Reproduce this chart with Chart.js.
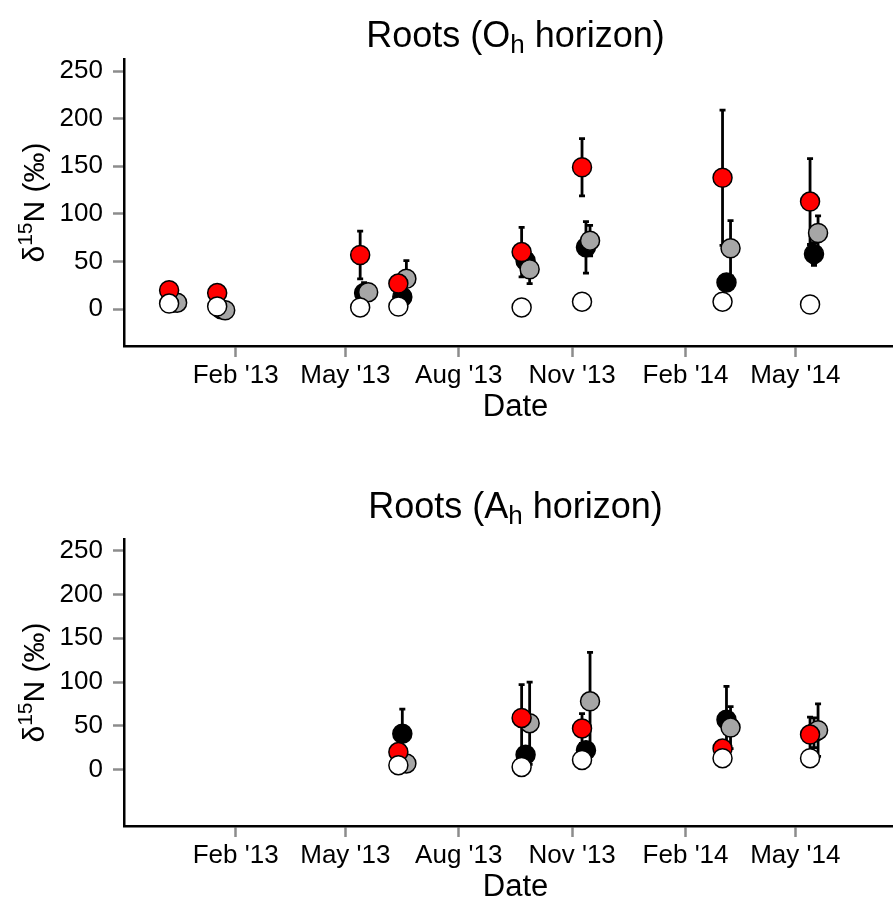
<!DOCTYPE html>
<html>
<head>
<meta charset="utf-8">
<script src="https://cdn.jsdelivr.net/npm/chart.js@4.4.1/dist/chart.umd.min.js"></script>
<style>
  body { margin: 0; background: #fff; overflow: hidden; }
  canvas { display: block; }
</style>
</head>
<body>
<canvas id="ohChart" width="893" height="450"></canvas>
<canvas id="ahChart" width="893" height="450"></canvas>
<script>
// sampling dates and axis ticks
var sampleDates = ['2012-12-09', '2013-01-17', '2013-05-13', '2013-06-13',
                   '2013-09-21', '2013-11-09', '2014-03-03', '2014-05-13'];
var tickDates = ['2013-02-01', '2013-05-01', '2013-08-01', '2013-11-01', '2014-02-01', '2014-05-01'];
var tickLabels = ["Feb '13", "May '13", "Aug '13", "Nov '13", "Feb '14", "May '14"];
var yTicks = [0, 50, 100, 150, 200, 250];

// Oh horizon: mean and error
var ohRed = [20, 17, 57, 27, 60, 149, 138, 113];
var ohRedErr = [3, 3, 25, 5, 26, 30, 71, 45];
var ohGrey = [7, -1, 18, 32, 42, 72, 64, 80];
var ohGreyErr = [2, 2, 5, 19, 15, 16, 29, 18];
var ohBlack = [7, 0, 17, 13, 51, 65, 28, 58];
var ohBlackErr = [2, 2, 11, 4, 10, 27, 5, 12];
var ohWhite = [6, 3, 2, 3, 2, 8, 8, 5];
var ohWhiteErr = [1, 1, 1, 1, 1, 1, 1, 1];

// Ah horizon
var ahRed = [null, null, null, 20, 59, 47, 24, 40];
var ahRedErr = [null, null, null, 3, 38, 17, 3, 20];
var ahGrey = [null, null, null, 7, 53, 78, 48, 45];
var ahGreyErr = [null, null, null, 2, 47, 56, 24, 30];
var ahBlack = [null, null, null, 41, 17, 22, 57, 42];
var ahBlackErr = [null, null, null, 28, 5, 5, 38, 17];
var ahWhite = [null, null, null, 5, 3, 11, 13, 13];
var ahWhiteErr = [null, null, null, 1, 1, 1, 1, 1];

var FONT = "'Liberation Sans', Arial, sans-serif";

function dayNum(s) {
  var p = s.split('-');
  return (Date.UTC(+p[0], +p[1] - 1, +p[2]) - Date.UTC(2013, 0, 1)) / 86400000;
}
var tickDays = tickDates.map(dayNum);

function series(vals, errs, dodge) {
  var pts = [];
  vals.forEach(function (v, i) {
    if (v !== null) pts.push({ x: dayNum(sampleDates[i]) + dodge, y: v, err: errs[i] });
  });
  return pts;
}

function dataset(vals, errs, dodge, fill, order) {
  return {
    data: series(vals, errs, dodge),
    backgroundColor: fill,
    borderColor: '#000',
    borderWidth: 1.5,
    pointRadius: 9.5,
    pointHoverRadius: 9.5,
    order: order
  };
}

// error bars under the points
var errorBars = {
  id: 'errorBars',
  beforeDatasetsDraw: function (chart) {
    var ctx = chart.ctx, y = chart.scales.y;
    ctx.save();
    ctx.strokeStyle = '#000';
    ctx.lineWidth = 2.8;
    chart.data.datasets.forEach(function (ds, di) {
      var meta = chart.getDatasetMeta(di);
      meta.data.forEach(function (el, i) {
        var p = ds.data[i];
        if (!p.err) return;
        var top = y.getPixelForValue(p.y + p.err);
        var bot = y.getPixelForValue(p.y - p.err);
        ctx.beginPath();
        ctx.moveTo(el.x, top); ctx.lineTo(el.x, bot);
        ctx.moveTo(el.x - 3, top); ctx.lineTo(el.x + 3, top);
        ctx.moveTo(el.x - 3, bot); ctx.lineTo(el.x + 3, bot);
        ctx.stroke();
      });
    });
    ctx.restore();
  }
};

// title with subscript, y label with superscript, x label
var labels = {
  id: 'labels',
  afterDraw: function (chart) {
    var ctx = chart.ctx, a = chart.chartArea, o = chart.options.plugins.labels;
    var cx = (a.left + a.right) / 2 + 7;
    ctx.save();
    ctx.fillStyle = '#000';
    ctx.textBaseline = 'alphabetic';
    ctx.textAlign = 'left';

    // title
    var parts = [[o.pre, 36, 0], ['h', 26, 6], [' horizon)', 36, 0]];
    var w = 0;
    parts.forEach(function (p) { ctx.font = p[1] + 'px ' + FONT; w += ctx.measureText(p[0]).width; });
    var x = cx - w / 2;
    parts.forEach(function (p) {
      ctx.font = p[1] + 'px ' + FONT;
      ctx.fillText(p[0], x, o.titleY + p[2]);
      x += ctx.measureText(p[0]).width;
    });

    // x label
    ctx.font = '31px ' + FONT;
    ctx.textAlign = 'center';
    ctx.fillText('Date', cx, a.bottom + 70);

    // y label
    ctx.translate(43.5, (a.top + a.bottom) / 2);
    ctx.rotate(-Math.PI / 2);
    ctx.textAlign = 'left';
    var yp = [['\u03b4', 30, 0], ['15', 21, -12], ['N (\u2030)', 30, 0]];
    w = 0;
    yp.forEach(function (p) { ctx.font = p[1] + 'px ' + FONT; w += ctx.measureText(p[0]).width; });
    x = -w / 2;
    yp.forEach(function (p) {
      ctx.font = p[1] + 'px ' + FONT;
      ctx.fillText(p[0], x, p[2]);
      x += ctx.measureText(p[0]).width;
    });
    ctx.restore();
  }
};

function makeChart(id, sets, pre, titleY, padTop, padBottom, yMin, yMax) {
  return new Chart(document.getElementById(id), {
    type: 'scatter',
    data: { datasets: sets },
    options: {
      responsive: false,
      animation: false,
      devicePixelRatio: 1,
      layout: { autoPadding: false, padding: { top: padTop, bottom: padBottom, left: 0, right: 0 } },
      plugins: {
        legend: { display: false },
        tooltip: { enabled: false },
        labels: { pre: pre, titleY: titleY }
      },
      scales: {
        x: {
          type: 'linear',
          min: -59.6,
          max: 564.3,
          afterBuildTicks: function (s) { s.ticks = tickDays.map(function (v) { return { value: v }; }); },
          afterFit: function (s) { s.height = 74; s.paddingLeft = 0; s.paddingRight = 0; },
          ticks: {
            autoSkip: false,
            maxRotation: 0,
            padding: 3,
            color: '#000',
            font: { family: FONT, size: 26 },
            callback: function (v) { return tickLabels[tickDays.indexOf(v)]; }
          },
          grid: { drawOnChartArea: false, drawTicks: true, tickLength: 11, tickColor: '#8c8c8c', tickWidth: 2.5 },
          border: { display: true, color: '#000', width: 2.5 }
        },
        y: {
          min: yMin,
          max: yMax,
          afterBuildTicks: function (s) { s.ticks = yTicks.map(function (v) { return { value: v }; }); },
          afterFit: function (s) { s.width = 124; s.paddingTop = 0; s.paddingBottom = 0; },
          ticks: {
            padding: 10,
            color: '#000',
            font: { family: FONT, size: 26 }
          },
          grid: { drawOnChartArea: false, drawTicks: true, tickLength: 11, tickColor: '#8c8c8c', tickWidth: 2.5 },
          border: { display: true, color: '#000', width: 2.5 }
        }
      }
    },
    plugins: [errorBars, labels]
  });
}

makeChart('ohChart', [
  dataset(ohWhite, ohWhiteErr, 0, '#ffffff', 0),
  dataset(ohRed, ohRedErr, 0, '#ff0000', 1),
  dataset(ohGrey, ohGreyErr, 6.5, '#a6a6a6', 2),
  dataset(ohBlack, ohBlackErr, 3.2, '#000000', 3)
], 'Roots (O', 47, 59, 30, -38.5, 262.6);

makeChart('ahChart', [
  dataset(ahWhite, ahWhiteErr, 0, '#ffffff', 0),
  dataset(ahRed, ahRedErr, 0, '#ff0000', 1),
  dataset(ahGrey, ahGreyErr, 6.5, '#a6a6a6', 2),
  dataset(ahBlack, ahBlackErr, 3.2, '#000000', 3)
], 'Roots (A', 68, 89, 0, -64.5, 263.5);
</script>
</body>
</html>
